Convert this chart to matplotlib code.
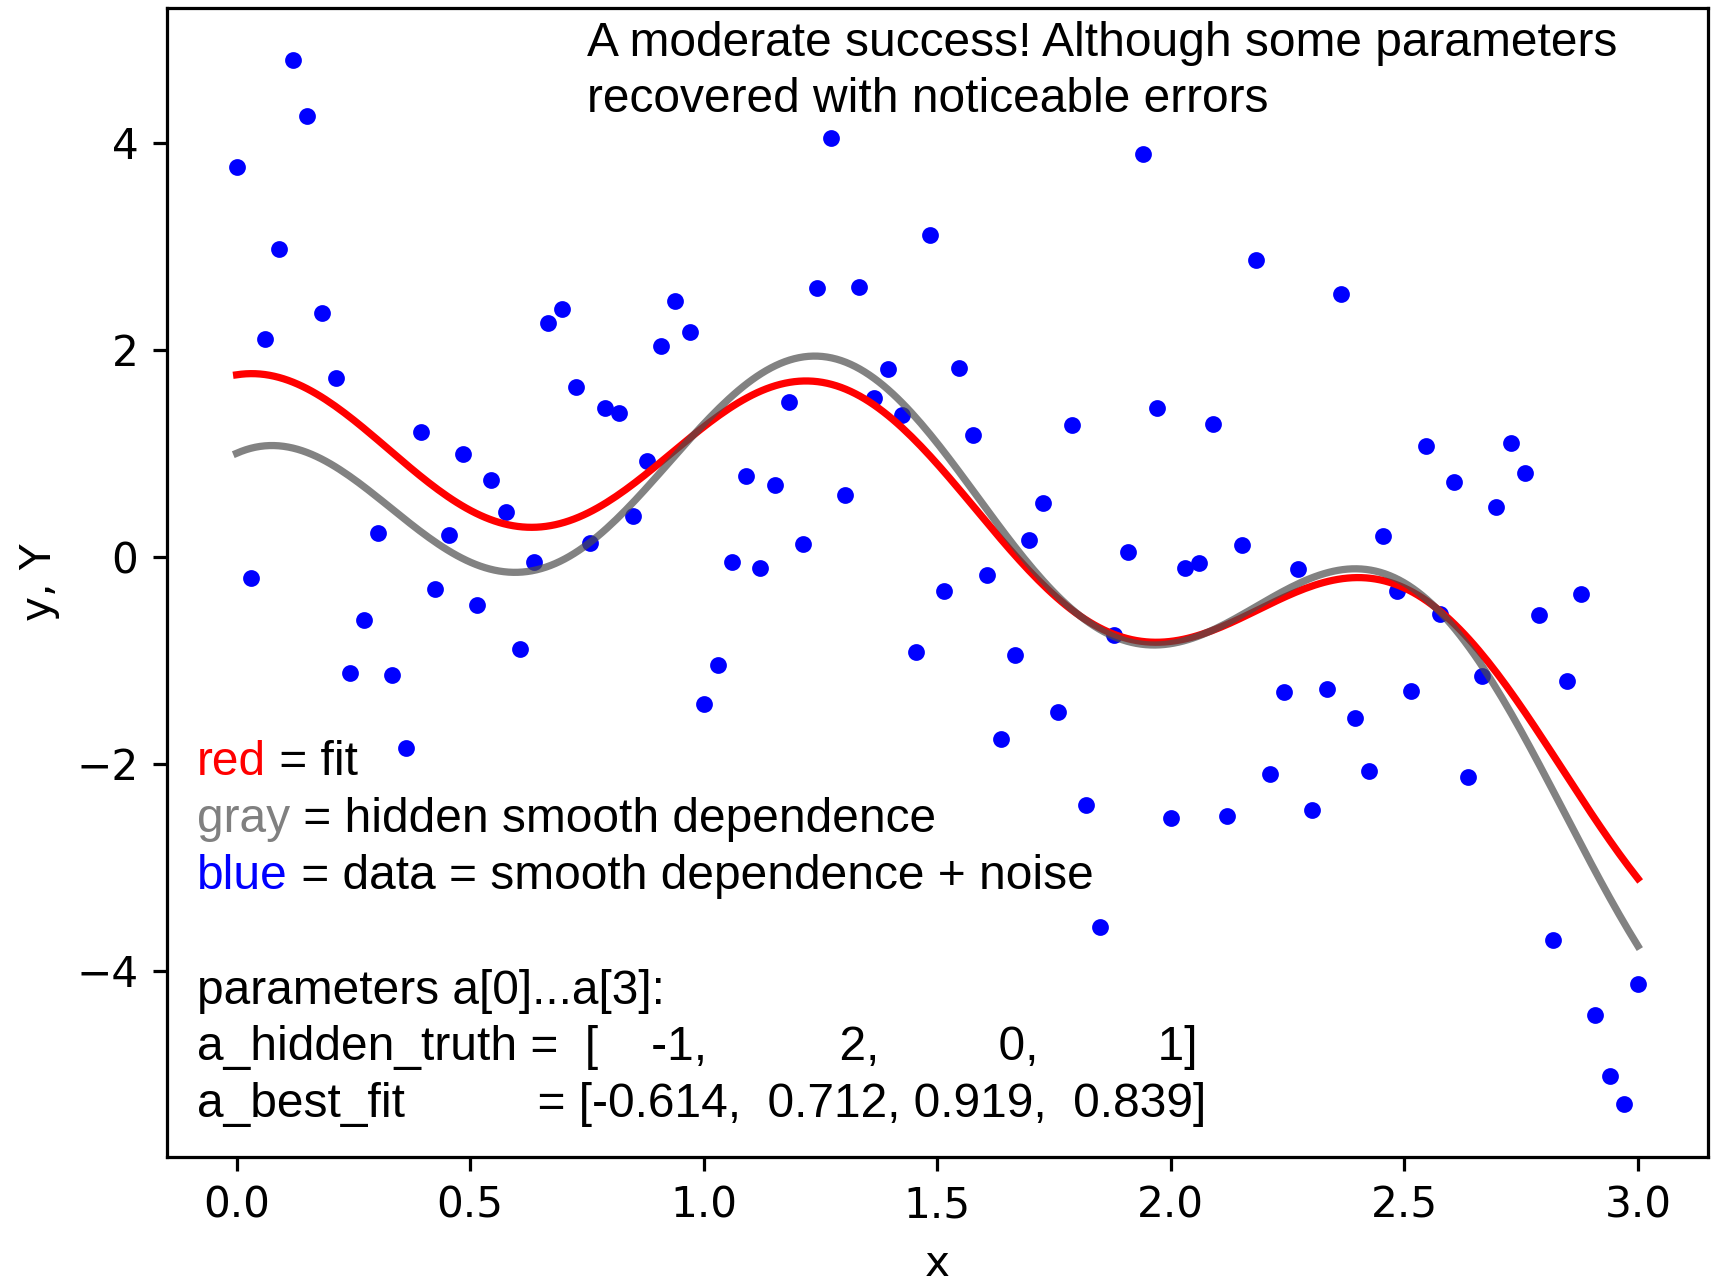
import numpy as np
import matplotlib
matplotlib.use("Agg")
import matplotlib.pyplot as plt

# noisy samples on 100 equally spaced points in [0, 3]
x_data = np.linspace(0.0, 3.0, 100)
y_data = [
    3.77, -0.20, 2.10, 2.97, 4.80, 4.26, 2.36, 1.73, -1.12, -0.61,
    0.23, -1.14, -1.85, 1.21, -0.31, 0.21, 0.99, -0.47, 0.74, 0.43,
    -0.89, -0.05, 2.26, 2.39, 1.64, 0.13, 1.44, 1.39, 0.39, 0.93,
    2.04, 2.47, 2.17, -1.42, -1.05, -0.05, 0.78, -0.11, 0.69, 1.50,
    0.12, 2.60, 4.05, 0.60, 2.61, 1.53, 1.81, 1.37, -0.92, 3.11,
    -0.33, 1.82, 1.18, -0.18, -1.76, -0.95, 0.16, 0.52, -1.50, 1.27,
    -2.40, -3.58, -0.76, 0.05, 3.89, 1.44, -2.52, -0.11, -0.06, 1.28,
    -2.50, 0.11, 2.87, -2.10, -1.31, -0.12, -2.45, -1.28, 2.54, -1.56,
    -2.07, 0.20, -0.33, -1.30, 1.07, -0.55, 0.72, -2.13, -1.15, 0.48,
    1.10, 0.81, -0.56, -3.70, -1.20, -0.36, -4.43, -5.02, -5.29, -4.13,
]

# model parameters: true ones and the fitted ones
a_hidden_truth = [-1.0, 2.0, 0.0, 1.0]
a_best_fit = [-0.614, 0.712, 0.919, 0.839]


def f(a, x):
    return a[0] * x**2 + a[1] * x + a[2] + a[3] * np.cos(5 * x)


x_fine = np.linspace(0.0, 3.0, 300)

fig = plt.figure(figsize=(1719 / 290, 1284 / 290), dpi=290)
ax = fig.add_axes([0.0969, 0.0992, 0.8967, 0.8948])

ax.scatter(x_data, y_data, s=10, color="blue")
ax.plot(x_fine, f(a_best_fit, x_fine), color="red", lw=1.8)
ax.plot(x_fine, f(a_hidden_truth, x_fine), color="0.3", alpha=0.7, lw=1.8)

ax.tick_params(labelsize=10.5)
ax.set_xlabel("x", fontsize=10.5)
ax.set_ylabel("y, Y", fontsize=10.5)

txt = dict(family="Liberation Sans", fontsize=11.88)

ax.text(0.751, 4.84, "A moderate success! Although some parameters",
        va="baseline", **txt)
ax.text(0.751, 4.30, "recovered with noticeable errors", va="baseline", **txt)


def colored_line(y, word, color, rest):
    t = ax.text(-0.085, y, word, color=color, va="baseline", **txt)
    ax.annotate(rest, xy=(1, 0), xycoords=t, va="bottom", ha="left", **txt)


colored_line(-2.108, "red", "red", " = fit")
colored_line(-2.66, "gray", "gray", " = hidden smooth dependence")
colored_line(-3.21, "blue", "blue", " = data = smooth dependence + noise")

ax.text(-0.085, -4.32, "parameters a[0]...a[3]:", va="baseline", **txt)
ax.text(-0.085, -4.86,
        "a_hidden_truth =  [    -1,          2,         0,         1]",
        va="baseline", **txt)
ax.text(-0.085, -5.41,
        "a_best_fit          = [-0.614,  0.712, 0.919,  0.839]",
        va="baseline", **txt)

fig.savefig("out.png", dpi=290)
